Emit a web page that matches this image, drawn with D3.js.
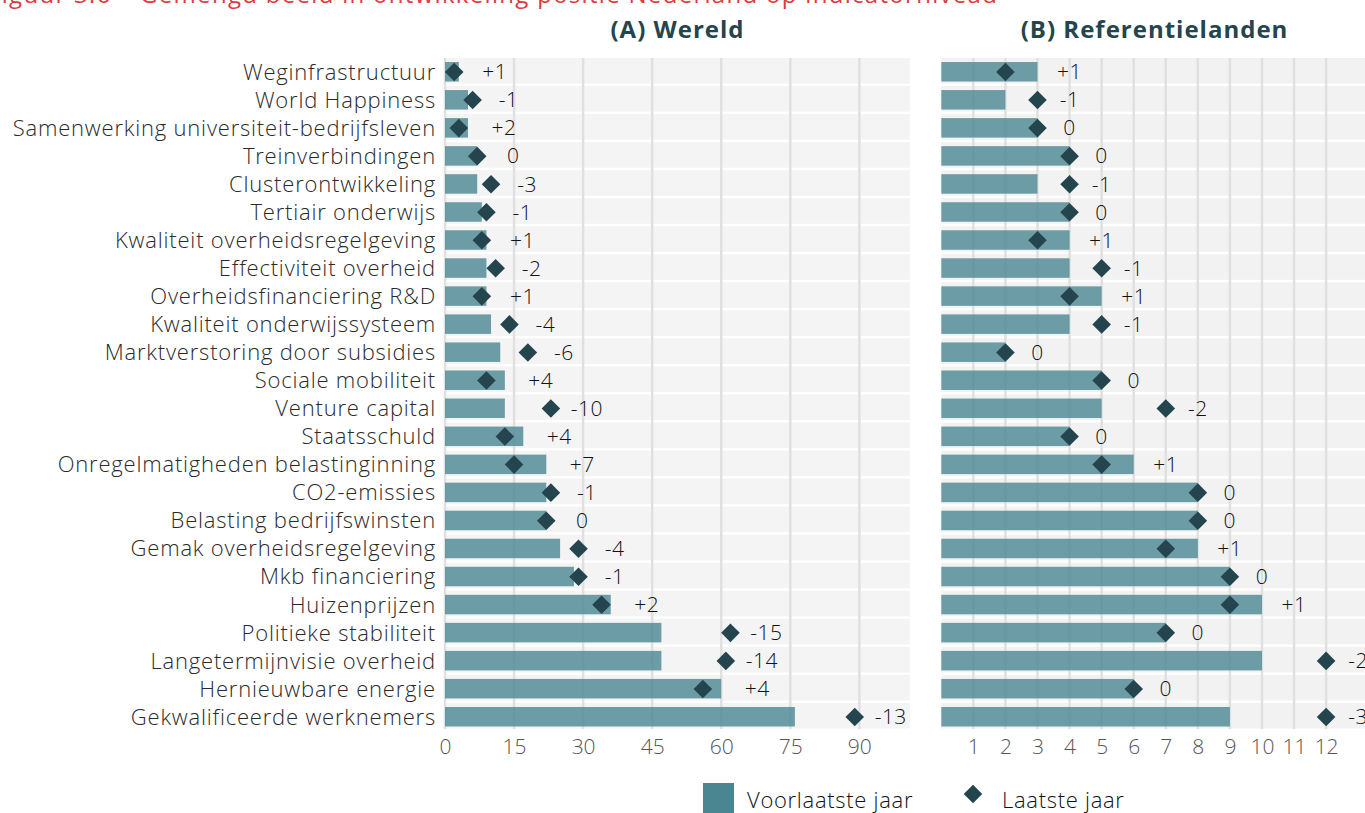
<!DOCTYPE html>
<html>
<head>
<meta charset="utf-8">
<script src="https://cdn.jsdelivr.net/npm/d3@7"></script>
<style>
  body { margin: 0; background: #fff; overflow: hidden; }
  text { font-family: "Open Sans", Lato, sans-serif; }
</style>
</head>
<body>
<div id="chart-area"></div>
<script>
var categories = [
    'Weginfrastructuur', 'World Happiness', 'Samenwerking universiteit-bedrijfsleven',
    'Treinverbindingen', 'Clusterontwikkeling', 'Tertiair onderwijs',
    'Kwaliteit overheidsregelgeving', 'Effectiviteit overheid', 'Overheidsfinanciering R&D',
    'Kwaliteit onderwijssysteem', 'Marktverstoring door subsidies', 'Sociale mobiliteit',
    'Venture capital', 'Staatsschuld', 'Onregelmatigheden belastinginning',
    'CO2-emissies', 'Belasting bedrijfswinsten', 'Gemak overheidsregelgeving',
    'Mkb financiering', 'Huizenprijzen', 'Politieke stabiliteit',
    'Langetermijnvisie overheid', 'Hernieuwbare energie', 'Gekwalificeerde werknemers'
];

// (A) Wereld - rang
var wereldVoorlaatst = [3, 5, 5, 7, 7, 8, 9, 9, 9, 10, 12, 13, 13, 17, 22, 22, 22, 25, 28, 36, 47, 47, 60, 76];
var wereldLaatst = [2, 6, 3, 7, 10, 9, 8, 11, 8, 14, 18, 9, 23, 13, 15, 23, 22, 29, 29, 34, 62, 61, 56, 89];
var wereldVerschil = ['+1', '-1', '+2', '0', '-3', '-1', '+1', '-2', '+1', '-4', '-6', '+4',
    '-10', '+4', '+7', '-1', '0', '-4', '-1', '+2', '-15', '-14', '+4', '-13'];

// (B) Referentielanden - rang
var refVoorlaatst = [3, 2, 3, 4, 3, 4, 4, 4, 5, 4, 2, 5, 5, 4, 6, 8, 8, 8, 9, 10, 7, 10, 6, 9];
var refLaatst = [2, 3, 3, 4, 4, 4, 3, 5, 4, 5, 2, 5, 7, 4, 5, 8, 8, 7, 9, 9, 7, 12, 6, 12];
var refVerschil = ['+1', '-1', '0', '0', '-1', '0', '+1', '-1', '+1', '-1', '0', '0',
    '-2', '0', '+1', '0', '0', '+1', '0', '+1', '0', '-2', '0', '-3'];

var wereldTicks = [0, 15, 30, 45, 60, 75, 90];
var refTicks = [1, 2, 3, 4, 5, 6, 7, 8, 9, 10, 11, 12];

var titel = 'Figuur 3.6 \u2013 Gemengd beeld in ontwikkeling positie Nederland op indicatorniveau';

var width = 1365;
var height = 813;
var plotTop = 58, plotBottom = 731;

var svg = d3.select('#chart-area')
    .append('svg')
    .attr('width', width)
    .attr('height', height);

var y = d3.scaleBand()
    .domain(categories)
    .range([plotTop, plotBottom]);

var barColor = '#4a8691';
var diamondColor = '#24454d';
var diamond = d3.symbol().type(d3.symbolDiamond2).size(220);

// red figure title, cut off at top
svg.append('text')
    .attr('x', -12)
    .attr('y', 3)
    .attr('font-size', '24px')
    .attr('letter-spacing', '1.3px')
    .attr('fill', '#e0393e')
    .text(titel);

// row labels
svg.append('g')
    .selectAll('text')
    .data(categories)
    .enter()
    .append('text')
    .attr('x', 436)
    .attr('y', d => y(d) + y.bandwidth() / 2)
    .attr('dy', '0.35em')
    .attr('text-anchor', 'end')
    .attr('font-size', '22px')
    .attr('letter-spacing', '0.8px')
    .attr('font-weight', 300)
    .attr('fill', '#2a2a2a')
    .text(d => d);

function drawPanel(opts) {
    var x = d3.scaleLinear().domain(opts.domain).range(opts.range);
    var g = svg.append('g');

    // row strips
    g.selectAll('rect.strip')
        .data(categories)
        .enter()
        .append('rect')
        .attr('class', 'strip')
        .attr('x', opts.range[0])
        .attr('width', opts.range[1] - opts.range[0])
        .attr('y', d => y(d))
        .attr('height', y.bandwidth() - 2.5)
        .attr('fill', opts.bg);

    // grid
    g.selectAll('line.grid')
        .data(opts.ticks)
        .enter()
        .append('line')
        .attr('class', 'grid')
        .attr('x1', d => x(d))
        .attr('x2', d => x(d))
        .attr('y1', plotTop)
        .attr('y2', plotBottom - 2)
        .attr('stroke', '#e0e0e0')
        .attr('stroke-width', 2.5);

    // bars (voorlaatste jaar)
    g.selectAll('rect.bar')
        .data(categories)
        .enter()
        .append('rect')
        .attr('class', 'bar')
        .attr('x', x(0))
        .attr('y', d => y(d) + y.bandwidth() / 2 - 10)
        .attr('width', (d, i) => x(opts.bars[i]) - x(0))
        .attr('height', 19.5)
        .attr('fill', barColor)
        .attr('fill-opacity', 0.8);

    // diamonds (laatste jaar)
    g.selectAll('path.pt')
        .data(categories)
        .enter()
        .append('path')
        .attr('class', 'pt')
        .attr('d', diamond)
        .attr('transform', (d, i) => `translate(${x(opts.points[i])}, ${y(d) + y.bandwidth() / 2})`)
        .attr('fill', diamondColor);

    // verschil labels
    g.selectAll('text.lab')
        .data(categories)
        .enter()
        .append('text')
        .attr('class', 'lab')
        .attr('x', (d, i) => x(Math.max(opts.bars[i], opts.points[i])) + opts.offset)
        .attr('y', d => y(d) + y.bandwidth() / 2)
        .attr('dy', '0.35em')
        .attr('text-anchor', 'middle')
        .attr('font-size', '21px')
        .attr('letter-spacing', '0.5px')
        .attr('font-weight', 300)
        .attr('fill', '#111')
        .text((d, i) => opts.labels[i]);

    // x axis
    var axis = d3.axisBottom(x).tickValues(opts.ticks).tickSize(0).tickPadding(0);
    var ax = g.append('g')
        .attr('transform', `translate(0, ${plotBottom + 8})`)
        .call(axis);
    ax.select('.domain').remove();
    ax.selectAll('text')
        .attr('font-size', '21px')
        .attr('font-weight', 300)
        .attr('fill', '#555')
        .attr('font-family', '"Open Sans", sans-serif');

    // title
    svg.append('text')
        .attr('x', (opts.range[0] + opts.range[1]) / 2)
        .attr('y', 38)
        .attr('text-anchor', 'middle')
        .attr('font-size', '24px')
        .attr('letter-spacing', '1px')
        .attr('font-weight', 'bold')
        .attr('fill', '#24454d')
        .text(opts.title);
}

drawPanel({
    title: '(A) Wereld',
    domain: [0, 101],
    range: [445, 910],
    ticks: wereldTicks,
    bars: wereldVoorlaatst,
    points: wereldLaatst,
    labels: wereldVerschil,
    offset: 36,
    bg: '#f4f4f4'
});

drawPanel({
    title: '(B) Referentielanden',
    domain: [0, 13.3],
    range: [941.3, 1367.8],
    ticks: refTicks,
    bars: refVoorlaatst,
    points: refLaatst,
    labels: refVerschil,
    offset: 32,
    bg: '#f2f2f2'
});

// legend
var legend = svg.append('g');
legend.append('rect')
    .attr('x', 703)
    .attr('y', 783)
    .attr('width', 31)
    .attr('height', 31)
    .attr('fill', barColor);
legend.append('text')
    .attr('x', 747)
    .attr('y', 800)
    .attr('dy', '0.35em')
    .attr('font-size', '22px')
    .attr('letter-spacing', '0.7px')
    .attr('font-weight', 300)
    .attr('fill', '#111')
    .text('Voorlaatste jaar');
legend.append('path')
    .attr('d', diamond)
    .attr('transform', 'translate(973, 794)')
    .attr('fill', diamondColor);
legend.append('text')
    .attr('x', 1002)
    .attr('y', 800)
    .attr('dy', '0.35em')
    .attr('font-size', '22px')
    .attr('letter-spacing', '0.7px')
    .attr('font-weight', 300)
    .attr('fill', '#111')
    .text('Laatste jaar');
</script>
</body>
</html>
